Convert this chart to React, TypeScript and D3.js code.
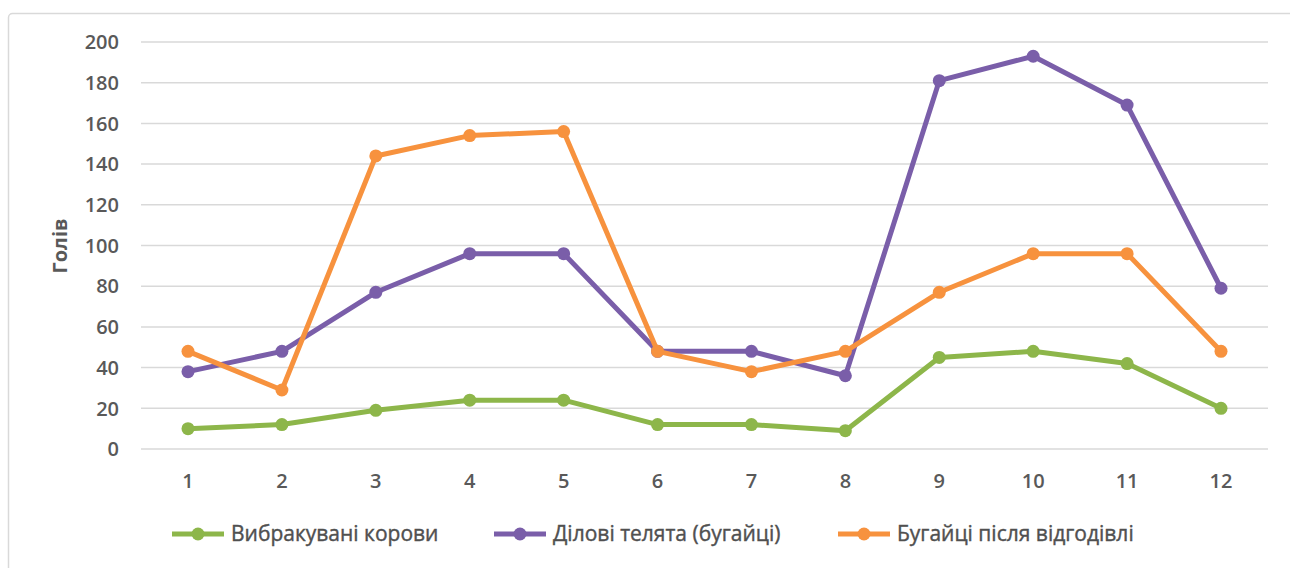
import React from "react";
import * as d3 from "d3";

const categories = ["1", "2", "3", "4", "5", "6", "7", "8", "9", "10", "11", "12"];
const culledCows = [10, 12, 19, 24, 24, 12, 12, 9, 45, 48, 42, 20];
const breedingCalves = [38, 48, 77, 96, 96, 48, 48, 36, 181, 193, 169, 79];
const fattenedBulls = [48, 29, 144, 154, 156, 48, 38, 48, 77, 96, 96, 48];
const yTicks = [0, 20, 40, 60, 80, 100, 120, 140, 160, 180, 200];

const seriesNames = ["Вибракувані корови", "Ділові телята (бугайці)", "Бугайці після відгодівлі"];
const seriesColors = ["#8DB64A", "#7A5EA9", "#F7923E"];
const seriesData = [culledCows, breedingCalves, fattenedBulls];

export default function App() {
  const W = 1290, H = 568;
  const x = d3.scalePoint<string>().domain(categories).range([188, 1221]);
  const y = d3.scaleLinear().domain([0, 200]).range([449, 42]);
  const line = d3.line<number>().x((_, i) => x(categories[i])!).y(d => y(d));
  const tickFont = "'Open Sans', 'Liberation Sans', sans-serif";
  const legendFont = "'Liberation Sans Narrow', 'Open Sans', sans-serif";
  const legendItems = [
    { lx: 172, tx: 231 },
    { lx: 494, tx: 553 },
    { lx: 838, tx: 897 },
  ];
  return (
    <div style={{ position: "absolute", left: 0, top: 0 }}>
      <svg width={W} height={H} style={{ display: "block", background: "#fff" }}>
        <rect x={8.5} y={13.5} width={1300} height={600} rx={4} fill="#fff" stroke="#d9d9d9" strokeWidth={1.5} />
        {yTicks.map(t => (
          <g key={t}>
            <line x1={141} x2={1268} y1={y(t)} y2={y(t)} stroke="#d9d9d9" strokeWidth={1.5} />
            <text x={119} y={y(t)} dy="0.36em" textAnchor="end" fontFamily={tickFont} fontWeight={600} fontSize={20} fill="#595959">{t}</text>
          </g>
        ))}
        {categories.map(c => (
          <text key={c} x={x(c)} y={481} dy="0.36em" textAnchor="middle" fontFamily={tickFont} fontWeight={600} fontSize={20} fill="#595959">{c}</text>
        ))}
        <text transform="translate(60,246) rotate(-90)" textAnchor="middle" dy="0.35em" fontFamily={tickFont} fontWeight={700} fontSize={20} fill="#595959">Голів</text>
        {seriesData.map((d, si) => (
          <g key={si}>
            <path d={line(d)!} fill="none" stroke={seriesColors[si]} strokeWidth={5} strokeLinejoin="round" />
            {d.map((v, i) => (
              <circle key={i} cx={x(categories[i])} cy={y(v)} r={6.5} fill={seriesColors[si]} />
            ))}
          </g>
        ))}
        {legendItems.map((it, si) => (
          <g key={si}>
            <line x1={it.lx} x2={it.lx + 52} y1={534} y2={534} stroke={seriesColors[si]} strokeWidth={5} />
            <circle cx={it.lx + 26} cy={534} r={6.5} fill={seriesColors[si]} />
            <text x={it.tx} y={534} dy="0.35em" fontFamily={legendFont} fontSize={21} fill="#505050" stroke="#505050" strokeWidth={0.4}>{seriesNames[si]}</text>
          </g>
        ))}
      </svg>
    </div>
  );
}
